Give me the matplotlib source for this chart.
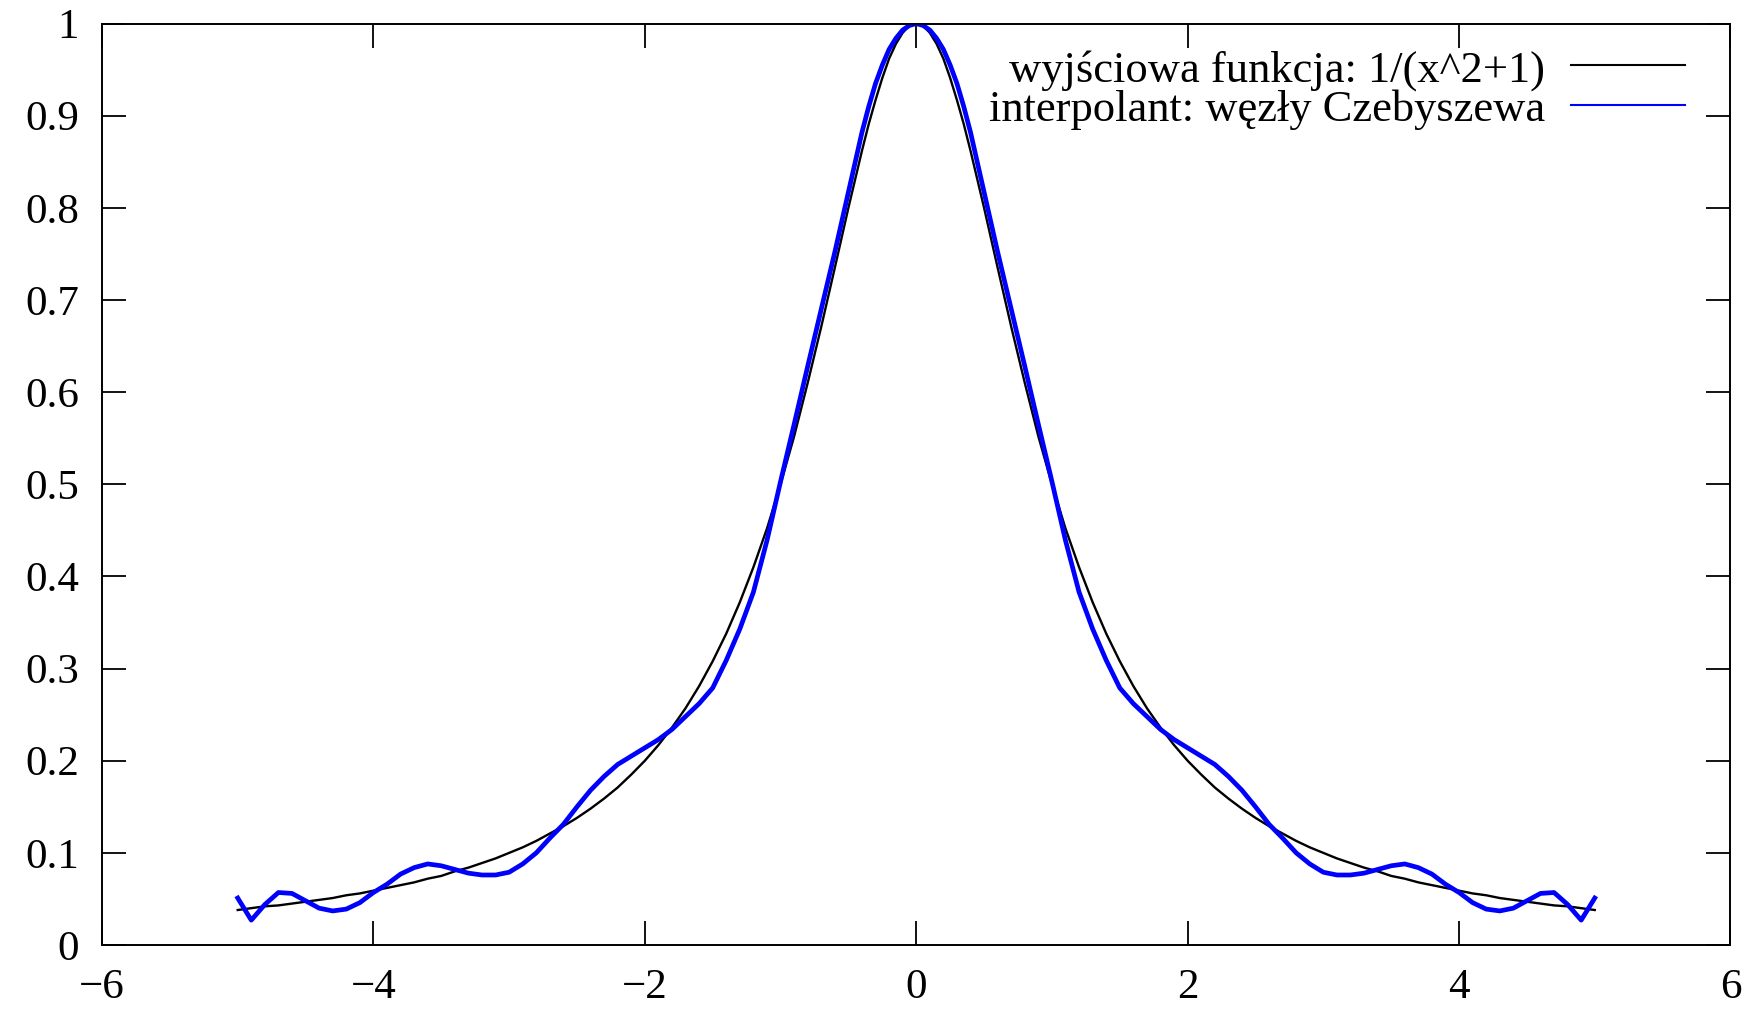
import matplotlib
matplotlib.use("Agg")
import matplotlib.pyplot as plt
from matplotlib.lines import Line2D

# sample positions for x >= 0 (finer near the peak)
x_right = [0.0, 0.05, 0.1, 0.15, 0.2, 0.25, 0.3, 0.35, 0.4, 0.5,
           0.6, 0.7, 0.8, 0.9, 1.0, 1.1, 1.2, 1.3, 1.4, 1.5,
           1.6, 1.7, 1.8, 1.9, 2.0, 2.1, 2.2, 2.3, 2.4, 2.5,
           2.6, 2.7, 2.8, 2.9, 3.0, 3.1, 3.2, 3.3, 3.4, 3.5,
           3.6, 3.7, 3.8, 3.9, 4.0, 4.1, 4.2, 4.3, 4.4, 4.5,
           4.6, 4.7, 4.8, 4.9, 5.0]

# original function 1/(x^2+1)
f_right = [1.000, 0.998, 0.990, 0.978, 0.962, 0.941, 0.917, 0.891, 0.862, 0.800,
           0.735, 0.671, 0.610, 0.552, 0.500, 0.452, 0.410, 0.372, 0.338, 0.308,
           0.281, 0.257, 0.236, 0.217, 0.200, 0.185, 0.171, 0.159, 0.148, 0.138,
           0.129, 0.121, 0.113, 0.106, 0.100, 0.094, 0.089, 0.084, 0.080, 0.075,
           0.072, 0.068, 0.065, 0.062, 0.059, 0.056, 0.054, 0.051, 0.049, 0.047,
           0.045, 0.043, 0.042, 0.040, 0.038]

# interpolant on Chebyshev nodes
p_right = [1.000, 0.998, 0.993, 0.984, 0.972, 0.955, 0.935, 0.910, 0.882, 0.817,
           0.752, 0.690, 0.628, 0.565, 0.503, 0.439, 0.383, 0.343, 0.309, 0.279,
           0.262, 0.248, 0.234, 0.223, 0.214, 0.205, 0.196, 0.183, 0.168, 0.150,
           0.131, 0.116, 0.100, 0.088, 0.079, 0.076, 0.076, 0.078, 0.082, 0.086,
           0.088, 0.084, 0.077, 0.066, 0.057, 0.046, 0.039, 0.037, 0.040, 0.048,
           0.056, 0.057, 0.044, 0.027, 0.051]

# both curves are symmetric about x = 0
x_vals = [-v for v in x_right[:0:-1]] + x_right
f_vals = f_right[:0:-1] + f_right
p_vals = p_right[:0:-1] + p_right

labels = ["wyjściowa funkcja: 1/(x^2+1)", "interpolant: węzły Czebyszewa"]
x_ticks = [-6, -4, -2, 0, 2, 4, 6]
y_ticks = [0, 0.1, 0.2, 0.3, 0.4, 0.5, 0.6, 0.7, 0.8, 0.9, 1]
y_ticklabels = ["0", "0.1", "0.2", "0.3", "0.4", "0.5", "0.6", "0.7", "0.8", "0.9", "1"]

plt.rcParams['font.family'] = ['Liberation Serif', 'DejaVu Serif']
plt.rcParams['font.size'] = 31

fig = plt.figure(figsize=(17.62, 10.13), dpi=100)
ax = fig.add_axes([0.0579, 0.0671, 0.9242, 0.9096])

ax.plot(x_vals, f_vals, color='black', lw=1.7)
ax.plot(x_vals, p_vals, color='#0000ff', lw=3.4)

ax.set_xlim(-6, 6)
ax.set_ylim(0, 1)
ax.set_xticks(x_ticks)
ax.set_yticks(y_ticks)
ax.set_yticklabels(y_ticklabels)
ax.tick_params(direction='in', length=17, width=1.3, top=True, right=True)
ax.tick_params(axis='y', pad=16.5)
ax.tick_params(axis='x', pad=17)
for s in ax.spines.values():
    s.set_linewidth(1.4)

# gnuplot-style key: right-aligned text, sample line to its right
key_y = [0.955, 0.912]
key_colors = ['black', '#0000ff']
for lab, yy, c in zip(labels, key_y, key_colors):
    ax.text(0.886, yy - 0.006, lab, transform=ax.transAxes, ha='right', va='center',
            fontsize=32)
    ax.add_line(Line2D([0.902, 0.972], [yy, yy], transform=ax.transAxes,
                       color=c, lw=1.5))

fig.savefig('out.png', dpi=100)
